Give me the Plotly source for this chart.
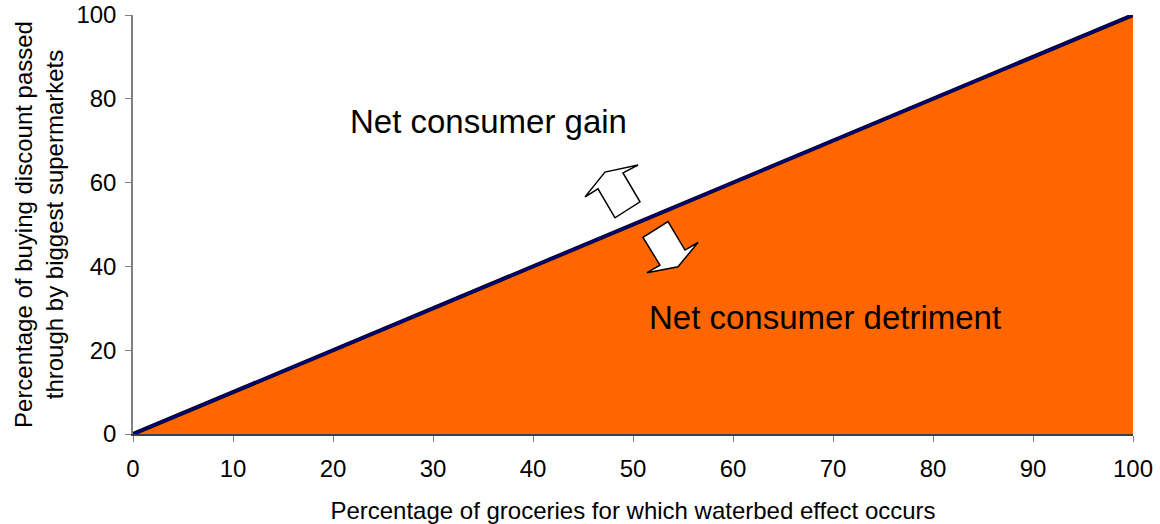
import plotly.graph_objects as go

x_vals = [0, 100]
y_vals = [0, 100]
x_ticks = list(range(0, 101, 10))
y_ticks = list(range(0, 101, 20))

up_arrow = [(45.2, 56.6), (47.2, 62.5), (50.5, 64.2), (49.0, 62.3), (50.7, 55.4), (48.2, 51.6), (46.5, 58.5)]
down_arrow = [(51.0, 46.9), (53.5, 50.7), (55.2, 43.9), (56.5, 45.7), (54.5, 39.9), (51.4, 38.5), (52.7, 40.3)]

FONT = "Liberation Sans, Arial, sans-serif"

fig = go.Figure()
fig.add_trace(go.Scatter(x=x_vals, y=y_vals, mode="lines", fill="tozeroy",
                         fillcolor="#FF6600", line=dict(color="black", width=4),
                         hoverinfo="skip", showlegend=False))
fig.add_trace(go.Scatter(x=x_vals, y=y_vals, mode="lines",
                         line=dict(color="#000080", width=2.5),
                         hoverinfo="skip", showlegend=False))

def poly(pts):
    return "M " + " L ".join(f"{a},{b}" for a, b in pts) + " Z"

for pts in (up_arrow, down_arrow):
    fig.add_shape(type="path", path=poly(pts), xref="x", yref="y",
                  fillcolor="white", line=dict(color="black", width=1.5))

fig.add_annotation(x=35.5, y=74.5, text="Net consumer gain", showarrow=False,
                   font=dict(family=FONT, size=33, color="black"))
fig.add_annotation(x=69.2, y=27.7, text="Net consumer detriment", showarrow=False,
                   font=dict(family=FONT, size=33, color="black"))

fig.update_layout(
    width=1160, height=524,
    margin=dict(l=133, r=27, t=15, b=90),
    paper_bgcolor="white", plot_bgcolor="white",
    font=dict(family=FONT, size=24, color="black"),
    xaxis=dict(range=[0, 100], tickvals=x_ticks, ticks="outside", ticklen=6,
               tickcolor="#808080", showline=True, linecolor="#404040", linewidth=1.5,
               showgrid=False, zeroline=False, automargin=False,
               tickfont=dict(size=24), ticklabelstandoff=6,
               title=dict(text="Percentage of groceries for which waterbed effect occurs",
                          font=dict(size=24), standoff=22)),
    yaxis=dict(range=[0, 100], tickvals=y_ticks, ticks="outside", ticklen=6,
               tickcolor="#808080", showline=True, linecolor="#808080", linewidth=1.5,
               showgrid=False, zeroline=False, automargin=False,
               tickfont=dict(size=24), ticklabelstandoff=4,
               title=dict(text="Percentage of buying discount passed<br>through by biggest supermarkets",
                          font=dict(size=24), standoff=6)),
)

fig.write_html("out.html")
